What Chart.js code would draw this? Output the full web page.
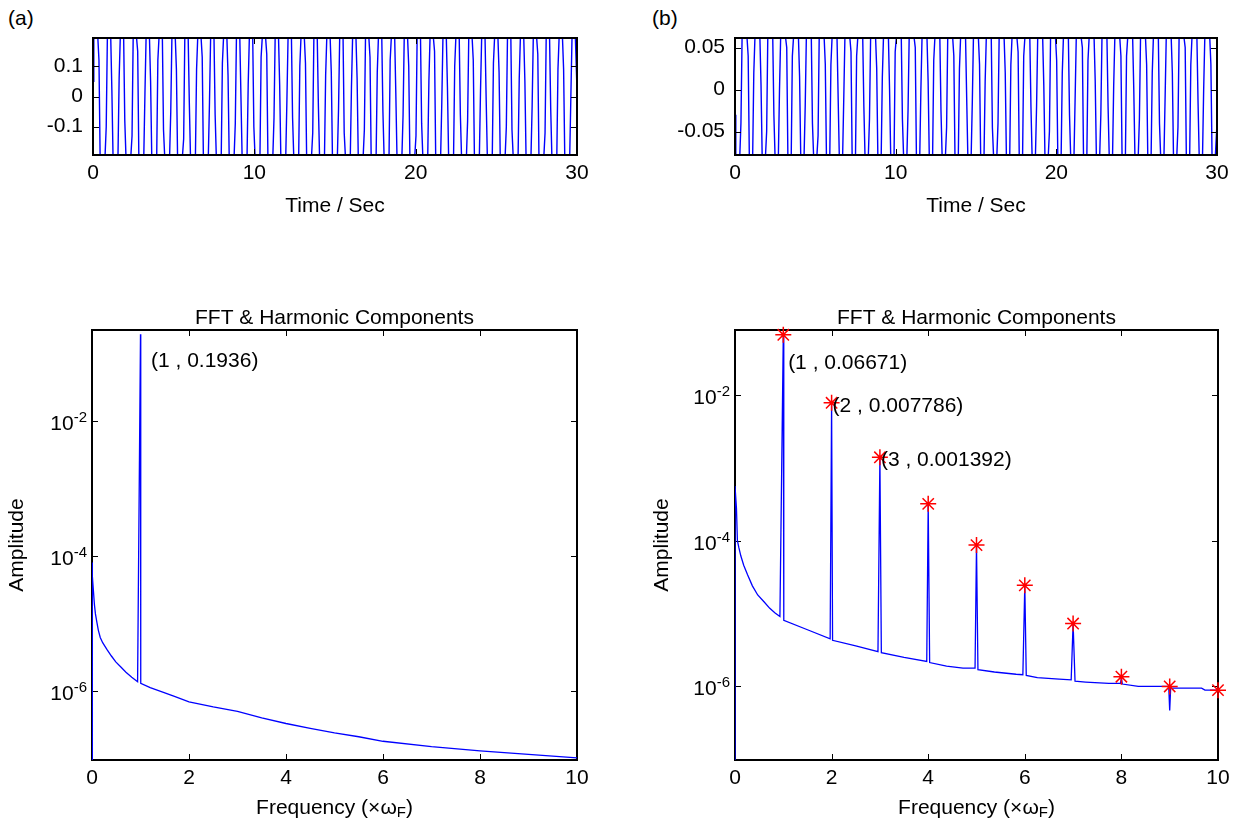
<!DOCTYPE html>
<html><head><meta charset="utf-8">
<script src="https://cdn.jsdelivr.net/npm/chart.js@4.4.0/dist/chart.umd.min.js"></script>
<style>
html,body{margin:0;padding:0;background:#fff;}
body{width:1247px;height:831px;position:relative;overflow:hidden;font-family:"Liberation Sans",Arial,sans-serif;}
.panel{position:absolute;}
.lbl{position:absolute;font-size:21px;line-height:21px;color:#000;}
</style></head><body>
<div class="lbl" style="left:8px;top:7px">(a)</div>
<div class="lbl" style="left:652px;top:7px">(b)</div>
<div class="panel" style="left:0;top:0"><canvas id="ta" width="623" height="235"></canvas></div>
<div class="panel" style="left:640px;top:0"><canvas id="tb" width="607" height="235"></canvas></div>
<div class="panel" style="left:0;top:240px"><canvas id="fa" width="623" height="591"></canvas></div>
<div class="panel" style="left:640px;top:240px"><canvas id="fb" width="607" height="591"></canvas></div>
<script>
// ---------------- data ----------------
// time samples (s) of the plotted traces: start, then per cycle a down stroke and an up stroke
const timeSec = [0,0.05,
 0.3,0.37,0.44,0.75,0.82,0.89,
 1.1,1.17,1.24,1.55,1.62,1.69,
 1.9,1.97,2.04,2.35,2.42,2.49,
 2.7,2.77,2.84,3.15,3.22,3.29,
 3.5,3.57,3.64,3.95,4.02,4.09,
 4.3,4.37,4.44,4.75,4.82,4.89,
 5.1,5.17,5.24,5.55,5.62,5.69,
 5.9,5.97,6.04,6.35,6.42,6.49,
 6.7,6.77,6.84,7.15,7.22,7.29,
 7.5,7.57,7.64,7.95,8.02,8.09,
 8.3,8.37,8.44,8.75,8.82,8.89,
 9.1,9.17,9.24,9.55,9.62,9.69,
 9.9,9.97,10.04,10.35,10.42,10.49,
 10.7,10.77,10.84,11.15,11.22,11.29,
 11.5,11.57,11.64,11.95,12.02,12.09,
 12.3,12.37,12.44,12.75,12.82,12.89,
 13.1,13.17,13.24,13.55,13.62,13.69,
 13.9,13.97,14.04,14.35,14.42,14.49,
 14.7,14.77,14.84,15.15,15.22,15.29,
 15.5,15.57,15.64,15.95,16.02,16.09,
 16.3,16.37,16.44,16.75,16.82,16.89,
 17.1,17.17,17.24,17.55,17.62,17.69,
 17.9,17.97,18.04,18.35,18.42,18.49,
 18.7,18.77,18.84,19.15,19.22,19.29,
 19.5,19.57,19.64,19.95,20.02,20.09,
 20.3,20.37,20.44,20.75,20.82,20.89,
 21.1,21.17,21.24,21.55,21.62,21.69,
 21.9,21.97,22.04,22.35,22.42,22.49,
 22.7,22.77,22.84,23.15,23.22,23.29,
 23.5,23.57,23.64,23.95,24.02,24.09,
 24.3,24.37,24.44,24.75,24.82,24.89,
 25.1,25.17,25.24,25.55,25.62,25.69,
 25.9,25.97,26.04,26.35,26.42,26.49,
 26.7,26.77,26.84,27.15,27.22,27.29,
 27.5,27.57,27.64,27.95,28.02,28.09,
 28.3,28.37,28.44,28.75,28.82,28.89,
 29.1,29.17,29.24,29.55,29.62,29.69,
 29.9,30];

const signalA = [0.05,0.194,
 0.194,0.12,-0.194,-0.194,-0.1,0.194,
 0.194,0.02,-0.194,-0.194,0.06,0.194,
 0.194,-0.08,-0.194,-0.194,-0.13,0.194,
 0.194,0.15,-0.194,-0.194,0.01,0.194,
 0.194,0.05,-0.194,-0.194,0.12,0.194,
 0.194,-0.11,-0.194,-0.194,-0.05,0.194,
 0.194,0.09,-0.194,-0.194,-0.14,0.194,
 0.194,-0.02,-0.194,-0.194,0.09,0.194,
 0.194,0.13,-0.194,-0.194,-0.02,0.194,
 0.194,-0.06,-0.194,-0.194,0.11,0.194,
 0.194,0.07,-0.194,-0.194,-0.09,0.194,
 0.194,0.0,-0.194,-0.194,0.04,0.194,
 0.194,-0.1,-0.194,-0.194,0.13,0.194,
 0.194,0.14,-0.194,-0.194,-0.07,0.194,
 0.194,0.04,-0.194,-0.194,-0.01,0.194,
 0.194,-0.07,-0.194,-0.194,0.1,0.194,
 0.194,0.11,-0.194,-0.194,-0.12,0.194,
 0.194,-0.03,-0.194,-0.194,0.07,0.194,
 0.194,0.08,-0.194,-0.194,-0.04,0.194,
 0.194,-0.12,-0.194,-0.194,0.03,0.194,
 0.194,0.06,-0.194,-0.194,-0.11,0.194,
 0.194,0.13,-0.194,-0.194,0.08,0.194,
 0.194,-0.05,-0.194,-0.194,0.12,0.194,
 0.194,0.01,-0.194,-0.194,-0.06,0.194,
 0.194,0.1,-0.194,-0.194,-0.13,0.194,
 0.194,-0.09,-0.194,-0.194,0.05,0.194,
 0.194,0.15,-0.194,-0.194,-0.02,0.194,
 0.194,0.03,-0.194,-0.194,0.1,0.194,
 0.194,-0.06,-0.194,-0.194,-0.08,0.194,
 0.194,0.12,-0.194,-0.194,0.02,0.194,
 0.194,-0.01,-0.194,-0.194,0.11,0.194,
 0.194,0.08,-0.194,-0.194,-0.1,0.194,
 0.194,-0.11,-0.194,-0.194,0.06,0.194,
 0.194,0.05,-0.194,-0.194,-0.03,0.194,
 0.194,0.14,-0.194,-0.194,-0.12,0.194,
 0.194,-0.04,-0.194,-0.194,0.09,0.194,
 0.194,0.09,-0.194,-0.194,0.0,0.194,
 0.194,0.02];

const signalB = [-0.03,-0.078,
 -0.078,-0.04,0.0615,0.0615,0.04,-0.078,
 -0.078,0.02,0.0615,0.0615,0.005,-0.078,
 -0.078,-0.05,0.0615,0.0615,-0.03,-0.078,
 -0.078,0.0,0.0615,0.0615,0.05,-0.078,
 -0.078,0.04,0.0615,0.0615,0.015,-0.078,
 -0.078,-0.02,0.0615,0.0615,-0.04,-0.078,
 -0.078,-0.055,0.0615,0.0615,0.03,-0.078,
 -0.078,0.03,0.0615,0.0615,-0.01,-0.078,
 -0.078,-0.01,0.0615,0.0615,0.045,-0.078,
 -0.078,0.04,0.0615,0.0615,-0.02,-0.078,
 -0.078,-0.035,0.0615,0.0615,0.025,-0.078,
 -0.078,0.015,0.0615,0.0615,0.0,-0.078,
 -0.078,0.045,0.0615,0.0615,-0.035,-0.078,
 -0.078,-0.025,0.0615,0.0615,0.05,-0.078,
 -0.078,0.0,0.0615,0.0615,0.01,-0.078,
 -0.078,0.035,0.0615,0.0615,-0.025,-0.078,
 -0.078,-0.045,0.0615,0.0615,0.04,-0.078,
 -0.078,0.025,0.0615,0.0615,-0.01,-0.078,
 -0.078,-0.015,0.0615,0.0615,0.03,-0.078,
 -0.078,0.01,0.0615,0.0615,-0.045,-0.078,
 -0.078,-0.04,0.0615,0.0615,0.02,-0.078,
 -0.078,0.03,0.0615,0.0615,0.045,-0.078,
 -0.078,0.04,0.0615,0.0615,-0.02,-0.078,
 -0.078,-0.02,0.0615,0.0615,0.005,-0.078,
 -0.078,-0.05,0.0615,0.0615,0.035,-0.078,
 -0.078,0.02,0.0615,0.0615,-0.03,-0.078,
 -0.078,-0.01,0.0615,0.0615,0.05,-0.078,
 -0.078,0.035,0.0615,0.0615,0.01,-0.078,
 -0.078,-0.03,0.0615,0.0615,-0.02,-0.078,
 -0.078,0.005,0.0615,0.0615,0.04,-0.078,
 -0.078,0.04,0.0615,0.0615,0.0,-0.078,
 -0.078,-0.035,0.0615,0.0615,0.03,-0.078,
 -0.078,0.02,0.0615,0.0615,-0.04,-0.078,
 -0.078,-0.01,0.0615,0.0615,0.02,-0.078,
 -0.078,-0.045,0.0615,0.0615,0.05,-0.078,
 -0.078,0.03,0.0615,0.0615,-0.015,-0.078,
 -0.078,0.0,0.0615,0.0615,0.03,-0.078,
 -0.078,-0.04];

const freqA = [0,0,0.015,0.03,0.05,0.07,0.1,0.13,0.17,0.22,0.31,0.4,0.49,0.6,0.7,0.82,0.94,1.0,1.005,1.2,1.43,1.7,2.0,2.5,3.0,3.5,4.0,4.5,5.0,5.5,6.0,7.0,8.0,9.0,10.0];
const ampA  = [9.5e-8,8e-5,5.0e-5,3.0e-5,1.9e-5,1.4e-5,1.05e-5,8.0e-6,6.2e-6,5.2e-6,4.1e-6,3.3e-6,2.7e-6,2.25e-6,1.9e-6,1.6e-6,1.37e-6,0.1936,1.3e-6,1.12e-6,9.8e-7,8.3e-7,6.9e-7,5.8e-7,5.0e-7,4.0e-7,3.3e-7,2.8e-7,2.4e-7,2.1e-7,1.8e-7,1.5e-7,1.3e-7,1.15e-7,1.02e-7];

const freqB = [0,0,0.03,0.05,0.08,0.12,0.18,0.26,0.36,0.47,0.6,0.72,0.83,0.93,1.0,1.01,1.5,1.97,2.0,2.02,2.5,2.96,3.0,3.03,3.5,3.97,4.0,4.03,4.38,4.72,4.97,5.0,5.03,5.37,5.82,5.96,6.0,6.03,6.26,6.71,6.96,7.0,7.04,7.26,7.74,7.98,8.0,8.02,8.35,8.98,9.0,9.02,9.66,9.73,10.0];
const ampB  = [9.8e-8,5.6e-4,2.8e-4,1.0e-4,8.0e-5,6.2e-5,4.6e-5,3.4e-5,2.4e-5,1.8e-5,1.45e-5,1.18e-5,1.02e-5,9.1e-6,0.06671,8.1e-6,6.0e-6,4.5e-6,0.007786,4.3e-6,3.6e-6,3.0e-6,0.001392,2.9e-6,2.5e-6,2.2e-6,3.2e-4,2.13e-6,1.9e-6,1.78e-6,1.78e-6,8.7e-5,1.7e-6,1.58e-6,1.47e-6,1.45e-6,2.44e-5,1.42e-6,1.32e-6,1.26e-6,1.23e-6,7.3e-6,1.18e-6,1.15e-6,1.1e-6,1.1e-6,1.3e-6,1.08e-6,1.0e-6,1.0e-6,4.7e-7,9.5e-7,9.5e-7,8.9e-7,8.9e-7];

const harmOrder = [1,2,3,4,5,6,7,8,9,10];
const harmAmp   = [0.06671,0.007786,0.001392,3.2e-4,8.7e-5,2.44e-5,7.3e-6,1.36e-6,1.0e-6,8.9e-7];

const timeTicks = [0,10,20,30];
const yTicksA = [-0.1,0,0.1];
const yTicksB = [-0.05,0,0.05];
const freqTicks = [0,2,4,6,8,10];
const logTicks = [1e-6,1e-4,1e-2];

// ---------------- helpers ----------------
const FAM = '"Liberation Sans", Arial, sans-serif';
const FS = 21, FSUP = 15;
Chart.defaults.font.family = FAM;
Chart.defaults.font.size = FS;
Chart.defaults.color = '#000';
const BLUE = '#0000ff';

function pts(xs, ys){ return xs.map((v,i)=>({x:v,y:ys[i]})); }
function fixAxis(size, horiz){ return s => { if(horiz) s.height = size; else s.width = size; s.paddingLeft=0; s.paddingRight=0; s.paddingTop=0; s.paddingBottom=0; }; }
function setTicks(vals){ return s => { s.ticks = vals.map(v=>({value:v})); }; }

function drawBox(chart){
  const {ctx, chartArea:a, scales:{x,y}} = chart;
  ctx.save();
  ctx.strokeStyle = '#000';
  ctx.lineWidth = 1;
  const tl = 6;
  ctx.beginPath();
  x.ticks.forEach(t=>{ const p = Math.round(x.getPixelForValue(t.value))+0.5;
    ctx.moveTo(p,a.bottom); ctx.lineTo(p,a.bottom-tl); ctx.moveTo(p,a.top); ctx.lineTo(p,a.top+tl); });
  y.ticks.forEach(t=>{ const p = Math.round(y.getPixelForValue(t.value))+0.5;
    ctx.moveTo(a.left,p); ctx.lineTo(a.left+tl,p); ctx.moveTo(a.right,p); ctx.lineTo(a.right-tl,p); });
  ctx.stroke();
  ctx.lineWidth = 2;
  ctx.strokeRect(a.left, a.top, a.right-a.left, a.bottom-a.top);
  ctx.restore();
}

const matlab = {
  id:'matlab',
  beforeDatasetsDraw(chart, args, o){ if(!o.boxOnTop) drawBox(chart); },
  afterDatasetsDraw(chart, args, o){ if(o.boxOnTop) drawBox(chart); },
  afterDraw(chart, args, o){
    const {ctx, chartArea:a, scales:{x,y}} = chart;
    ctx.save();
    ctx.fillStyle = '#000';
    if (o.title){
      ctx.font = FS+'px '+FAM; ctx.textAlign='center'; ctx.textBaseline='middle';
      ctx.fillText(o.title, (a.left+a.right)/2, a.top-12);
    }
    if (o.logLabels){
      y.ticks.forEach(t=>{
        const p = y.getPixelForValue(t.value);
        const e = String(Math.round(Math.log10(t.value)));
        ctx.textAlign='left'; ctx.textBaseline='alphabetic';
        ctx.font = FSUP+'px '+FAM; const ew = ctx.measureText(e).width;
        ctx.font = FS+'px '+FAM; const bw = ctx.measureText('10').width;
        const right = a.left - 5;
        ctx.fillText('10', right-ew-bw, p+9);
        ctx.font = FSUP+'px '+FAM; ctx.fillText(e, right-ew, p+1);
      });
    }
    (o.notes||[]).forEach(n=>{
      ctx.font = FS+'px '+FAM; ctx.textAlign='left'; ctx.textBaseline='middle';
      ctx.fillText(n.text, x.getPixelForValue(n.x)+(n.dx||0), y.getPixelForValue(n.y)+(n.dy||0));
    });
    if (o.freqLabel){
      const cy = o.freqLabel.y;
      const p1 = 'Frequency (\u00d7\u03c9', p2 = 'F', p3 = ')';
      ctx.textAlign='left'; ctx.textBaseline='middle';
      ctx.font=FS+'px '+FAM; const w1 = ctx.measureText(p1).width, w3 = ctx.measureText(p3).width;
      ctx.font=FSUP+'px '+FAM; const w2 = ctx.measureText(p2).width;
      let sx = (a.left+a.right)/2 - (w1+w2+w3)/2;
      ctx.font=FS+'px '+FAM; ctx.fillText(p1, sx, cy);
      ctx.font=FSUP+'px '+FAM; ctx.fillText(p2, sx+w1, cy+5);
      ctx.font=FS+'px '+FAM; ctx.fillText(p3, sx+w1+w2, cy);
    }
    ctx.restore();
  }
};

function timeChart(id, ys, yMin, yMax, yTicks, yW, padR){
  return new Chart(document.getElementById(id), {
    type:'line',
    data:{datasets:[{data:pts(timeSec, ys), borderColor:BLUE, borderWidth:1.4, pointRadius:0, tension:0, fill:false}]},
    options:{
      responsive:false, animation:false, devicePixelRatio:1,
      layout:{padding:{left:0,right:padR,top:38,bottom:0}},
      plugins:{legend:{display:false}, tooltip:{enabled:false}, matlab:{boxOnTop:true}},
      scales:{
        x:{type:'linear', min:0, max:30, afterBuildTicks:setTicks(timeTicks), afterFit:fixAxis(80,true),
           grid:{display:false, drawTicks:false}, border:{display:false},
           ticks:{padding:6, maxRotation:0, autoSkip:false, callback:v=>String(v)},
           title:{display:true, text:'Time / Sec', padding:{top:0,bottom:16}}},
        y:{type:'linear', min:yMin, max:yMax, afterBuildTicks:setTicks(yTicks), afterFit:fixAxis(yW,false),
           grid:{display:false, drawTicks:false}, border:{display:false},
           ticks:{padding:10, autoSkip:false, callback:v=>String(v)}}
      }
    },
    plugins:[matlab]
  });
}

function fftChart(id, fx, fy, yMin, yMax, yW, padR, titlePadTop, notes, stars){
  const ds = [{data:pts(fx, fy), borderColor:BLUE, borderWidth:1.3, pointRadius:0, tension:0, fill:false, order:2}];
  if (stars) ds.push({data:pts(harmOrder, harmAmp), showLine:false, pointStyle:'star', pointRadius:8, borderColor:'#ff0000', backgroundColor:'#ff0000', borderWidth:1.5, order:1, clip:false});
  return new Chart(document.getElementById(id), {
    type:'line',
    data:{datasets:ds},
    options:{
      responsive:false, animation:false, devicePixelRatio:1,
      layout:{padding:{left:0,right:padR,top:90,bottom:0}},
      plugins:{legend:{display:false}, tooltip:{enabled:false},
        matlab:{title:'FFT & Harmonic Components', logLabels:true, notes:notes, freqLabel:{y:568}}},
      scales:{
        x:{type:'linear', min:0, max:10, afterBuildTicks:setTicks(freqTicks), afterFit:fixAxis(71,true),
           grid:{display:false, drawTicks:false}, border:{display:false},
           ticks:{padding:6, maxRotation:0, autoSkip:false, callback:v=>String(v)}},
        y:{type:'logarithmic', min:yMin, max:yMax, afterBuildTicks:setTicks(logTicks), afterFit:fixAxis(yW,false),
           grid:{display:false, drawTicks:false}, border:{display:false},
           ticks:{padding:6, autoSkip:false, callback:()=>''},
           title:{display:true, text:'Amplitude', padding:{top:titlePadTop,bottom:0}}}
      }
    },
    plugins:[matlab]
  });
}

timeChart('ta', signalA, -0.194, 0.194, yTicksA, 93, 46);
timeChart('tb', signalB, -0.078, 0.0615, yTicksB, 95, 30);
fftChart('fa', freqA, ampA, 9.5e-8, 0.223, 92, 46, 5,
  [{x:1.216, y:0.0775, text:'(1 , 0.1936)'}], false);
fftChart('fb', freqB, ampB, 9.8e-8, 0.0776, 95, 29, 10,
  [{x:1.1, y:0.0269, text:'(1 , 0.06671)'},
   {x:2.0, y:0.007786, dx:1, dy:3, text:'(2 , 0.007786)'},
   {x:3.0, y:0.001392, dx:1, dy:3, text:'(3 , 0.001392)'}], true);
</script>
</body></html>
